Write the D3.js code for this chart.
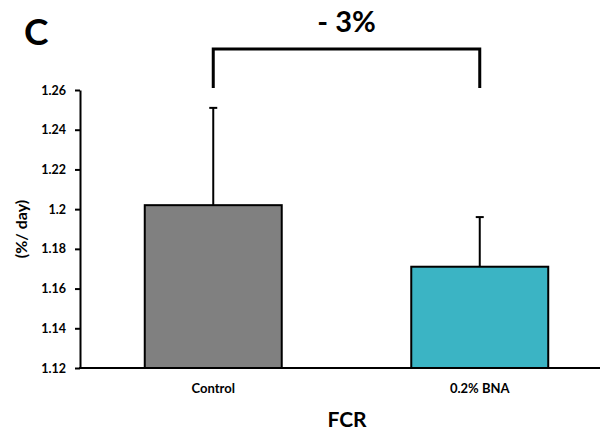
<!DOCTYPE html>
<html>
<head>
<meta charset="utf-8">
<script src="https://cdn.jsdelivr.net/npm/d3@7"></script>
<style>
  body { margin: 0; background: #fff; }
  svg text { font-family: Lato, "Open Sans", sans-serif; font-weight: bold; fill: #000; }
</style>
</head>
<body>
<svg width="616" height="430"></svg>
<script>
// Datos
const categories = ["Control", "0.2% BNA"];
const means = [1.202, 1.171];
const errors = [0.049, 0.025];
const colors = ["#808080", "#3bb4c4"];
const yTicks = [1.12, 1.14, 1.16, 1.18, 1.2, 1.22, 1.24, 1.26];
const diffLabel = "- 3%";

const svg = d3.select("svg");

const x = d3.scaleBand()
    .domain(categories)
    .range([80, 613])
    .paddingInner(0.486)
    .paddingOuter(0.243);

const y = d3.scaleLinear()
    .domain([1.12, 1.26])
    .range([368, 90]);

// Barras
svg.selectAll(".bar")
    .data(categories)
    .enter()
    .append("rect")
    .attr("class", "bar")
    .attr("x", d => x(d))
    .attr("y", (d, i) => y(means[i]))
    .attr("width", x.bandwidth())
    .attr("height", (d, i) => y(1.12) - y(means[i]))
    .attr("fill", (d, i) => colors[i])
    .attr("stroke", "#000")
    .attr("stroke-width", 2);

// Barras de error (solo hacia arriba)
const err = svg.selectAll(".err")
    .data(categories)
    .enter()
    .append("g")
    .attr("class", "err");

err.append("line")
    .attr("x1", d => x(d) + x.bandwidth() / 2)
    .attr("x2", d => x(d) + x.bandwidth() / 2)
    .attr("y1", (d, i) => y(means[i]))
    .attr("y2", (d, i) => y(means[i] + errors[i]))
    .attr("stroke", "#000")
    .attr("stroke-width", 2);

err.append("line")
    .attr("x1", d => x(d) + x.bandwidth() / 2 - 4)
    .attr("x2", d => x(d) + x.bandwidth() / 2 + 4)
    .attr("y1", (d, i) => y(means[i] + errors[i]))
    .attr("y2", (d, i) => y(means[i] + errors[i]))
    .attr("stroke", "#000")
    .attr("stroke-width", 2);

// Eje Y
const yAxis = d3.axisLeft(y)
    .tickValues(yTicks)
    .tickFormat(d => d3.format("")(+d.toFixed(2)))
    .tickSize(5)
    .tickSizeOuter(0);

const gy = svg.append("g")
    .attr("transform", "translate(80,0)")
    .call(yAxis);
gy.select(".domain").attr("stroke-width", 2);
gy.selectAll(".tick line").attr("stroke-width", 2);
gy.selectAll(".tick text")
    .attr("x", -14)
    .style("font-size", "12.5px");

// Eje X
svg.append("line")
    .attr("x1", 79)
    .attr("x2", 600)
    .attr("y1", y(1.12))
    .attr("y2", y(1.12))
    .attr("stroke", "#000")
    .attr("stroke-width", 2);

svg.selectAll(".xlabel")
    .data(categories)
    .enter()
    .append("text")
    .attr("class", "xlabel")
    .attr("x", d => x(d) + x.bandwidth() / 2)
    .attr("y", 393)
    .attr("text-anchor", "middle")
    .style("font-size", "13px")
    .text(d => d);

// Títulos
svg.append("text")
    .attr("x", 347)
    .attr("y", 427)
    .attr("text-anchor", "middle")
    .style("font-size", "21px")
    .text("FCR");

svg.append("text")
    .attr("transform", "translate(27,229) rotate(-90)")
    .attr("text-anchor", "middle")
    .style("font-size", "16px")
    .text("(%/ day)");

svg.append("text")
    .attr("x", 24)
    .attr("y", 45)
    .style("font-size", "37px")
    .text("C");

// Corchete de diferencia
const xa = x(categories[0]) + x.bandwidth() / 2;
const xb = x(categories[1]) + x.bandwidth() / 2;
svg.append("path")
    .attr("d", `M${xa},88 V49 H${xb} V88`)
    .attr("fill", "none")
    .attr("stroke", "#000")
    .attr("stroke-width", 3);

svg.append("text")
    .attr("x", (xa + xb) / 2)
    .attr("y", 32)
    .attr("text-anchor", "middle")
    .style("font-size", "29px")
    .text(diffLabel);
</script>
</body>
</html>
